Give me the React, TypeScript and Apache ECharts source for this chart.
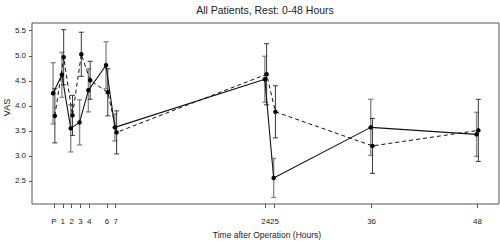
import React, { useEffect, useRef } from "react";
import * as echarts from "echarts";

const hours = [0, 1, 2, 3, 4, 6, 7, 24, 25, 36, 48];
const solidMean = [4.25, 4.62, 3.55, 3.67, 4.31, 4.81, 3.57, 4.53, 2.56, 3.57, 3.43];
const solidErr = [0.61, 0.45, 0.47, 0.45, 0.43, 0.47, 0.27, 0.46, 0.39, 0.56, 0.44];
const dashedMean = [3.8, 4.97, 3.81, 5.03, 4.51, 4.27, 3.47, 4.63, 3.88, 3.2, 3.51];
const dashedErr = [0.54, 0.55, 0.4, 0.44, 0.38, 0.47, 0.43, 0.61, 0.52, 0.55, 0.62];
const yTicks = [2.5, 3.0, 3.5, 4.0, 4.5, 5.0, 5.5];
const xTickLabels = ["P", "1", "2", "3", "4", "6", "7", "24", "25", "36", "48"];

const FONT = "'Liberation Sans', Arial, Helvetica, sans-serif";
const DODGE = 0.1;

export default function App() {
  const ref = useRef<HTMLDivElement>(null);
  useEffect(() => {
    if (!ref.current) return;
    const chart = echarts.init(ref.current, null, { renderer: "svg" });

    const solidPts = hours.map((h, i) => [h - DODGE, solidMean[i]]);
    const dashedPts = hours.map((h, i) => [h + DODGE, dashedMean[i]]);
    const solidBars = hours.map((h, i) => [h - DODGE, solidMean[i] - solidErr[i], solidMean[i] + solidErr[i]]);
    const dashedBars = hours.map((h, i) => [h + DODGE, dashedMean[i] - dashedErr[i], dashedMean[i] + dashedErr[i]]);

    const errRender = (color: string, width: number) => (params: any, api: any) => {
      const x = api.value(0);
      const lo = api.coord([x, api.value(1)]);
      const hi = api.coord([x, api.value(2)]);
      const cw = 2.5;
      const style = { stroke: color, lineWidth: width, fill: "none" };
      return {
        type: "group",
        children: [
          { type: "line", shape: { x1: hi[0], y1: hi[1], x2: lo[0], y2: lo[1] }, style },
          { type: "line", shape: { x1: hi[0] - cw, y1: hi[1], x2: hi[0] + cw, y2: hi[1] }, style },
          { type: "line", shape: { x1: lo[0] - cw, y1: lo[1], x2: lo[0] + cw, y2: lo[1] }, style },
        ],
      };
    };

    const labelMap: Record<number, string> = {};
    hours.forEach((h, i) => (labelMap[h] = xTickLabels[i]));

    chart.setOption({
      animation: false,
      grid: {
        left: 32,
        right: 1,
        top: 23,
        bottom: 37,
        show: true,
        borderColor: "#555",
        borderWidth: 1,
        backgroundColor: "transparent",
      },
      xAxis: {
        type: "value",
        position: "bottom",
        min: -2.49,
        max: 50.44,
        axisLine: { show: false, onZero: false },
        splitLine: { show: false },
        axisTick: { show: true, length: 4, customValues: hours, lineStyle: { color: "#555" } },
        axisLabel: {
          customValues: hours,
          formatter: (v: number) => labelMap[v] ?? String(v),
          fontSize: 8,
          color: "#222",
          fontFamily: FONT,
          margin: 13,
          hideOverlap: false,
          showMinLabel: true,
          showMaxLabel: true,
        },
      },
      yAxis: {
        type: "value",
        position: "left",
        min: 2.04,
        max: 5.654,
        axisLine: { show: false, onZero: false },
        splitLine: { show: false },
        axisTick: { show: true, length: 3, customValues: yTicks, lineStyle: { color: "#555" } },
        axisLabel: {
          customValues: yTicks,
          formatter: (v: number) => v.toFixed(1),
          fontSize: 8,
          color: "#222",
          fontFamily: FONT,
          margin: 6,
        },
      },
      graphic: [
        {
          type: "text",
          x: 265,
          y: 10,
          style: {
            text: "All Patients, Rest: 0-48 Hours",
            fontSize: 10.5,
            fontFamily: FONT,
            fill: "#222",
            align: "center",
            verticalAlign: "middle",
          },
        },
        {
          type: "text",
          x: 267,
          y: 235,
          style: {
            text: "Time after Operation (Hours)",
            fontSize: 8.5,
            fontFamily: FONT,
            fill: "#222",
            align: "center",
            verticalAlign: "middle",
          },
        },
        {
          type: "text",
          x: 7,
          y: 107.5,
          rotation: Math.PI / 2,
          style: {
            text: "VAS",
            fontSize: 9,
            fontFamily: FONT,
            fill: "#222",
            align: "center",
            verticalAlign: "middle",
          },
        },
      ],
      series: [
        {
          type: "custom",
          renderItem: errRender("#8c8c8c", 1.4),
          data: solidBars,
          z: 1,
          silent: true,
        },
        {
          type: "custom",
          renderItem: errRender("#222", 0.9),
          data: dashedBars,
          z: 2,
          silent: true,
        },
        {
          type: "line",
          data: solidPts,
          symbol: "circle",
          symbolSize: 4.5,
          lineStyle: { color: "#111", width: 1.1, type: "solid" },
          itemStyle: { color: "#000" },
          z: 3,
        },
        {
          type: "line",
          data: dashedPts,
          symbol: "circle",
          symbolSize: 4.5,
          lineStyle: { color: "#111", width: 1, type: [4, 3] },
          itemStyle: { color: "#000" },
          z: 3,
        },
      ],
    });
    return () => chart.dispose();
  }, []);
  return (
    <div
      ref={ref}
      style={{ position: "fixed", left: 0, top: 0, width: 500, height: 241, background: "#fff" }}
    />
  );
}
